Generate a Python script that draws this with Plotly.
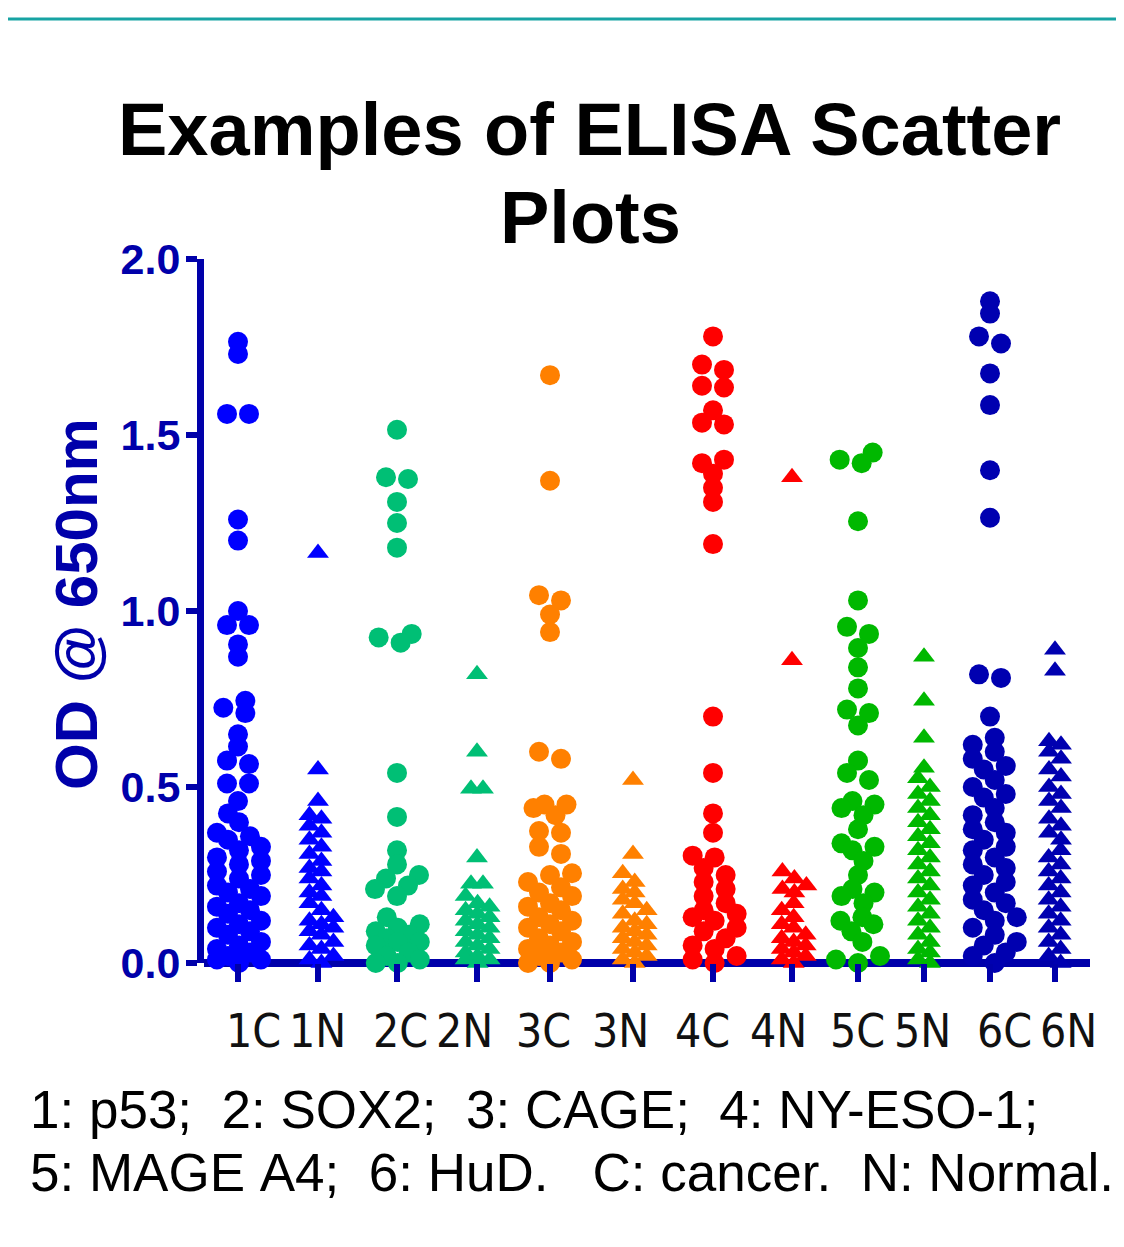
import plotly.graph_objects as go

# ---------------- data ----------------
categories = ["1C", "1N", "2C", "2N", "3C", "3N", "4C", "4N", "5C", "5N", "6C", "6N"]

v1C = [1.765, 1.73, 1.56, 1.56, 1.26, 1.20, 1.00, 0.96, 0.96, 0.905, 0.87, 0.745, 0.725, 0.71,
       0.65, 0.615, 0.575, 0.565, 0.51, 0.51, 0.46, 0.425, 0.40,
       0.37, 0.36, 0.35, 0.33, 0.32, 0.30, 0.29, 0.28, 0.26, 0.25, 0.24, 0.22, 0.21, 0.20, 0.19,
       0.17, 0.16, 0.15, 0.14, 0.12, 0.11, 0.10, 0.09, 0.08, 0.06, 0.05, 0.04, 0.03, 0.02, 0.01,
       0.01, 0.0]
v1N = [1.165, 0.55, 0.46, 0.42, 0.41, 0.39, 0.37, 0.35, 0.33, 0.31, 0.29, 0.27, 0.26, 0.24,
       0.22, 0.20, 0.19, 0.17, 0.15, 0.13, 0.12, 0.11, 0.10, 0.09, 0.08, 0.06, 0.05, 0.04, 0.02,
       0.01, 0.0]
v2C = [1.515, 1.38, 1.375, 1.31, 1.25, 1.18, 0.935, 0.925, 0.91, 0.54, 0.415, 0.32, 0.28, 0.25,
       0.24, 0.22, 0.21, 0.19, 0.13, 0.11, 0.10, 0.09, 0.08, 0.07, 0.06, 0.06, 0.05, 0.03, 0.02,
       0.01, 0.0, 0.0]
v2N = [0.82, 0.60, 0.495, 0.495, 0.30, 0.225, 0.225, 0.19, 0.17, 0.16, 0.15, 0.14, 0.13, 0.12,
       0.11, 0.10, 0.09, 0.08, 0.07, 0.06, 0.05, 0.04, 0.03, 0.02, 0.01, 0.01, 0.0]
v3C = [1.67, 1.37, 1.045, 1.03, 0.99, 0.94, 0.60, 0.58, 0.45, 0.45, 0.44, 0.42, 0.375, 0.37,
       0.33, 0.31, 0.255, 0.25, 0.23, 0.215, 0.20, 0.19, 0.17, 0.16, 0.15, 0.13, 0.12, 0.11,
       0.10, 0.09, 0.07, 0.06, 0.05, 0.04, 0.03, 0.02, 0.01, 0.0, 0.0]
v3N = [0.52, 0.31, 0.255, 0.23, 0.21, 0.20, 0.18, 0.17, 0.15, 0.14, 0.12, 0.11, 0.10, 0.09,
       0.08, 0.07, 0.06, 0.05, 0.04, 0.03, 0.02, 0.01, 0.0]
v4C = [1.78, 1.70, 1.685, 1.64, 1.635, 1.57, 1.535, 1.53, 1.43, 1.42, 1.39, 1.35, 1.31, 1.19,
       0.70, 0.54, 0.425, 0.37, 0.305, 0.30, 0.27, 0.25, 0.23, 0.21, 0.19, 0.17, 0.15, 0.14,
       0.13, 0.12, 0.10, 0.09, 0.07, 0.05, 0.04, 0.02, 0.01, 0.0]
v4N = [1.38, 0.86, 0.26, 0.24, 0.22, 0.21, 0.20, 0.17, 0.15, 0.13, 0.11, 0.10, 0.08, 0.07,
       0.06, 0.05, 0.04, 0.03, 0.02, 0.01, 0.0]
v5C = [1.45, 1.43, 1.42, 1.255, 1.03, 0.955, 0.935, 0.895, 0.84, 0.78, 0.72, 0.71, 0.675,
       0.575, 0.54, 0.52, 0.46, 0.45, 0.44, 0.42, 0.38, 0.34, 0.33, 0.32, 0.29, 0.25, 0.21,
       0.20, 0.19, 0.17, 0.13, 0.12, 0.11, 0.09, 0.06, 0.02, 0.01, 0.0]
v5N = [0.87, 0.745, 0.64, 0.555, 0.525, 0.50, 0.48, 0.46, 0.44, 0.42, 0.40, 0.38, 0.36, 0.34,
       0.32, 0.30, 0.28, 0.26, 0.24, 0.22, 0.20, 0.18, 0.16, 0.14, 0.12, 0.10, 0.08, 0.06, 0.04,
       0.03, 0.01, 0.0]
v6C = [1.88, 1.845, 1.78, 1.76, 1.675, 1.585, 1.40, 1.265, 0.82, 0.81, 0.70, 0.64, 0.62, 0.60,
       0.58, 0.56, 0.55, 0.52, 0.50, 0.48, 0.47, 0.44, 0.42, 0.40, 0.38, 0.37, 0.35, 0.33, 0.32,
       0.30, 0.28, 0.27, 0.25, 0.23, 0.22, 0.20, 0.18, 0.17, 0.15, 0.13, 0.12, 0.10, 0.08, 0.06,
       0.05, 0.03, 0.02, 0.0]
v6N = [0.89, 0.83, 0.63, 0.62, 0.60, 0.58, 0.55, 0.53, 0.50, 0.48, 0.46, 0.44, 0.41, 0.39,
       0.37, 0.35, 0.32, 0.30, 0.28, 0.26, 0.24, 0.22, 0.20, 0.18, 0.16, 0.14, 0.12, 0.10, 0.08,
       0.06, 0.04, 0.02, 0.0]

series_values = [v1C, v1N, v2C, v2N, v3C, v3N, v4C, v4N, v5C, v5N, v6C, v6N]
y_tick_values = [0.0, 0.5, 1.0, 1.5, 2.0]
y_tick_labels = ["0.0", "0.5", "1.0", "1.5", "2.0"]

title_line1 = "Examples of ELISA Scatter"
title_line2 = "Plots"
y_title = "OD @ 650nm"
footer_line1 = "1: p53;  2: SOX2;  3: CAGE;  4: NY-ESO-1;"
footer_line2 = "5: MAGE A4;  6: HuD.   C: cancer.  N: Normal."

# ---------------- layout / style ----------------
OFF = 8                                   # page body margin
PAGE_W, PAGE_H = 1124, 1247
W, H = PAGE_W - OFF, PAGE_H - OFF
Lp, Rp, Tp, Bp = 204, 1090, 259, 963      # plot area, page pixels
L, R, T, B = Lp - OFF, Rp - OFF, Tp - OFF, Bp - OFF
PW, PH = R - L, B - T
Y_MAX = 2.0
PXY = PH / Y_MAX

# column centres and label centres in page pixels (x axis units = page px)
col_centers = [238, 318, 397, 477, 550, 633, 713, 792, 858, 924, 990, 1055]
label_x_px = [253, 317, 400, 464, 543, 620, 702, 778, 857, 922, 1004, 1068]

palette = ["#0000FF", "#00BF75", "#FF8000", "#FF0000", "#00B800", "#0000B0"]
AXIS = "#0000AA"


def px_x(px):       # page px -> paper
    return (px - Lp) / PW


def px_y(py):
    return (Bp - py) / PH


def swarm(values, center, step, rx, ry, kmax):
    """Column-scatter layout: offsets on a grid of `step` px, at most kmax steps from centre."""
    order = sorted(range(len(values)), key=lambda i: values[i])
    cands = [0]
    for k in range(1, kmax + 1):
        cands += [-k * step, k * step]
    placed = []
    off = [0.0] * len(values)
    for i in order:
        ypx = values[i] * PXY
        chosen, best_c, best_s = None, 0, -1.0
        for c in cands:
            s = min([((c - ox) / rx) ** 2 + ((ypx - oy) / ry) ** 2 for ox, oy in placed] or [9.0])
            if s >= 1:
                chosen = c
                break
            if s > best_s:
                best_s, best_c = s, c
        if chosen is None:
            chosen = best_c
        placed.append((chosen, ypx))
        off[i] = chosen
    # centre each isolated group of points horizontally
    groups, cur = [], [order[0]]
    for a, b in zip(order[:-1], order[1:]):
        if (values[b] - values[a]) * PXY > ry:
            groups.append(cur)
            cur = []
        cur.append(b)
    groups.append(cur)
    for g in groups:
        m = sum(off[i] for i in g) / len(g)
        for i in g:
            off[i] -= m
    return [center + o for o in off]


fig = go.Figure()
for idx, (cat, vals) in enumerate(zip(categories, series_values)):
    color = palette[idx // 2]
    if cat.endswith("C"):
        xs = swarm(vals, col_centers[idx], 11, 15, 12, 2)
        marker = dict(symbol="circle", size=20, color=color, line=dict(width=0))
    else:
        xs = swarm(vals, col_centers[idx], 12, 14, 10, 1)
        marker = dict(symbol="triangle-up", size=19, color=color, line=dict(width=0))
    fig.add_trace(go.Scatter(x=xs, y=vals, mode="markers", marker=marker,
                             cliponaxis=False, showlegend=False, name=cat, hoverinfo="y"))

annotations = []
SANS = "Liberation Sans, Arial, sans-serif"
annotations.append(dict(text="<b>" + title_line1 + "</b>", x=px_x(589), y=px_y(129),
                        xref="paper", yref="paper", showarrow=False, xanchor="center", yanchor="middle",
                        font=dict(family=SANS, size=74, color="#000000")))
annotations.append(dict(text="<b>" + title_line2 + "</b>", x=px_x(590), y=px_y(218),
                        xref="paper", yref="paper", showarrow=False, xanchor="center", yanchor="middle",
                        font=dict(family=SANS, size=74, color="#000000")))
annotations.append(dict(text="<b>" + y_title + "</b>", x=px_x(76), y=px_y(604), textangle=-90,
                        xref="paper", yref="paper", showarrow=False, xanchor="center", yanchor="middle",
                        font=dict(family=SANS, size=60, color=AXIS)))
for cat, lx in zip(categories, label_x_px):
    annotations.append(dict(text='<span style="font-stretch:condensed">' + cat + "</span>",
                            x=px_x(lx), y=px_y(1031), xref="paper", yref="paper",
                            showarrow=False, xanchor="center", yanchor="middle",
                            font=dict(family="DejaVu Sans", size=46, color="#111111")))
for txt, yy in [(footer_line1, 1109), (footer_line2, 1172)]:
    annotations.append(dict(text=txt.replace(" ", "\u00a0"), x=px_x(28), y=px_y(yy),
                            xref="paper", yref="paper", showarrow=False, xanchor="left", yanchor="middle",
                            font=dict(family=SANS, size=53, color="#000000")))

shapes = [
    dict(type="line", xref="paper", yref="paper", x0=px_x(OFF), x1=px_x(PAGE_W),
         y0=px_y(19), y1=px_y(19), line=dict(color="#17A3A3", width=3)),
]

fig.update_layout(
    width=W, height=H,
    margin=dict(l=L, r=W - R, t=T, b=H - B, pad=0),
    paper_bgcolor="white", plot_bgcolor="white",
    annotations=annotations, shapes=shapes,
    xaxis=dict(range=[Lp, Rp], showgrid=False, zeroline=False, showline=False,
               tickvals=col_centers, ticktext=[""] * len(col_centers), ticks="outside",
               ticklen=18, tickwidth=6, tickcolor=AXIS, layer="above traces", fixedrange=True),
    yaxis=dict(range=[0, Y_MAX], showgrid=False, zeroline=True, zerolinecolor=AXIS, zerolinewidth=8,
               showline=True, linecolor=AXIS,
               linewidth=7, tickvals=y_tick_values, ticktext=y_tick_labels, ticks="outside",
               ticklen=11, tickwidth=6, tickcolor=AXIS, layer="below traces", ticklabelstandoff=-3,
               tickfont=dict(family=SANS, size=43, color=AXIS, weight="bold"), fixedrange=True),
)

fig.write_html("out.html")
